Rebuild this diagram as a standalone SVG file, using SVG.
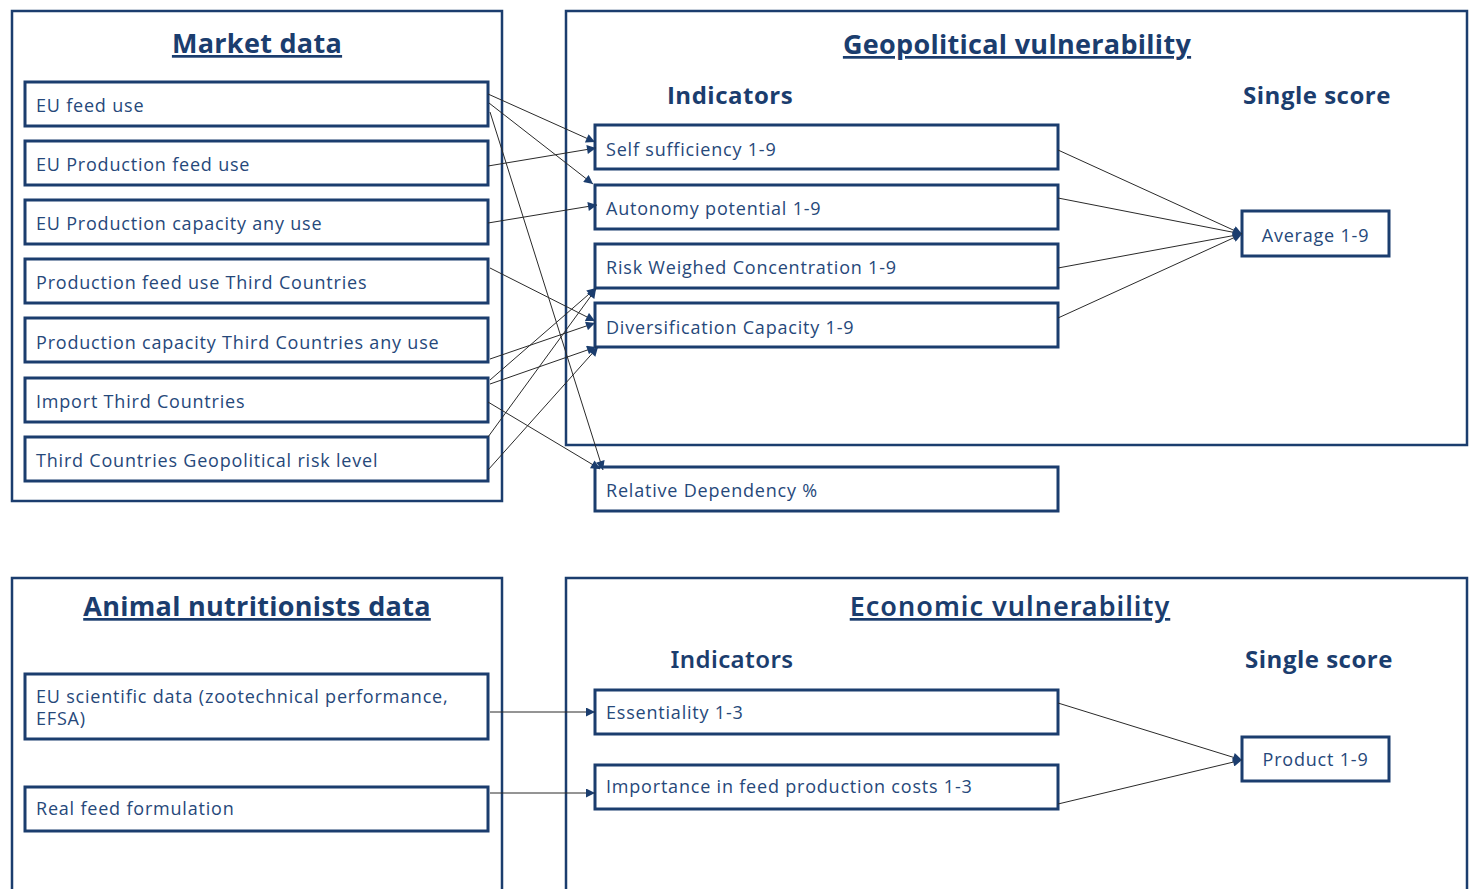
<svg xmlns="http://www.w3.org/2000/svg" width="1474" height="889" viewBox="0 0 1474 889">
<defs>
<marker id="ah" viewBox="0 0 10 10" refX="10" refY="5" markerWidth="10" markerHeight="9" markerUnits="userSpaceOnUse" orient="auto">
<path d="M0,0 L10,5 L0,10 z" fill="#1B3D6E"/>
</marker>
<style>
.outer{fill:none;stroke:#1B3D6E;stroke-width:2.5}
.box{fill:#fff;stroke:#1B3D6E;stroke-width:3}
.t{font-family:"Open Sans","Liberation Sans",sans-serif;font-size:18px;letter-spacing:0.8px;fill:#26487A}
.tc{font-family:"Open Sans","Liberation Sans",sans-serif;font-size:18px;letter-spacing:0.8px;fill:#26487A;text-anchor:middle}
.title{font-family:"Open Sans","Liberation Sans",sans-serif;font-size:27px;font-weight:700;letter-spacing:0.3px;fill:#1B3D6E;text-anchor:middle;text-decoration:underline}
.sub{font-family:"Open Sans","Liberation Sans",sans-serif;font-size:24px;font-weight:700;letter-spacing:0.5px;fill:#1B3D6E;text-anchor:middle}
.sub2{font-family:"Noto Sans","Liberation Sans",sans-serif;font-size:24px;font-weight:600;letter-spacing:0.4px;fill:#1B3D6E;text-anchor:middle}
.title2{font-family:"Noto Sans","Liberation Sans",sans-serif;font-size:27px;font-weight:600;letter-spacing:1px;fill:#1B3D6E;text-anchor:middle;text-decoration:underline}
.c{stroke:#2a2a2a;stroke-width:1;fill:none;marker-end:url(#ah)}
</style>
</defs>
<rect width="1474" height="889" fill="#fff"/>

<g id="market-data">
<rect class="outer" x="12" y="11" width="490" height="490"/>
<text class="title" x="257" y="53">Market data</text>
</g>
<g id="eu-feed-use"><rect class="box" x="25" y="82" width="463" height="44"/><text class="t" x="36" y="112">EU feed use</text></g>
<g id="eu-production-feed-use"><rect class="box" x="25" y="141" width="463" height="44"/><text class="t" x="36" y="171">EU Production feed use</text></g>
<g id="eu-production-capacity"><rect class="box" x="25" y="200" width="463" height="44"/><text class="t" x="36" y="230">EU Production capacity any use</text></g>
<g id="production-feed-use-tc"><rect class="box" x="25" y="259" width="463" height="44"/><text class="t" x="36" y="289">Production feed use Third Countries</text></g>
<g id="production-capacity-tc"><rect class="box" x="25" y="318" width="463" height="44"/><text class="t" x="36" y="349">Production capacity Third Countries any use</text></g>
<g id="import-tc"><rect class="box" x="25" y="378" width="463" height="44"/><text class="t" x="36" y="408">Import Third Countries</text></g>
<g id="tc-geopolitical-risk"><rect class="box" x="25" y="437" width="463" height="44"/><text class="t" x="36" y="467">Third Countries Geopolitical risk level</text></g>

<g id="geopolitical-vulnerability">
<rect class="outer" x="566" y="11" width="901" height="434"/>
<text class="title" x="1017" y="54">Geopolitical vulnerability</text>
<text class="sub" x="730" y="104">Indicators</text>
<text class="sub" x="1317" y="104">Single score</text>
</g>
<g id="self-sufficiency"><rect class="box" x="595" y="125" width="463" height="44"/><text class="t" x="606" y="156">Self sufficiency 1-9</text></g>
<g id="autonomy-potential"><rect class="box" x="595" y="185" width="463" height="44"/><text class="t" x="606" y="215">Autonomy potential 1-9</text></g>
<g id="risk-weighed-concentration"><rect class="box" x="595" y="244" width="463" height="44"/><text class="t" x="606" y="274">Risk Weighed Concentration 1-9</text></g>
<g id="diversification-capacity"><rect class="box" x="595" y="303" width="463" height="44"/><text class="t" x="606" y="334">Diversification Capacity 1-9</text></g>
<g id="relative-dependency"><rect class="box" x="595" y="467" width="463" height="44"/><text class="t" x="606" y="497">Relative Dependency %</text></g>
<g id="average"><rect class="box" x="1242" y="211" width="147" height="45"/><text class="tc" x="1315.5" y="242">Average 1-9</text></g>

<g id="animal-nutritionists-data">
<rect class="outer" x="12" y="578" width="490" height="320"/>
<text class="title" x="257" y="616">Animal nutritionists data</text>
</g>
<g id="eu-scientific-data"><rect class="box" x="25" y="674" width="463" height="65"/><text class="t" x="36" y="703">EU scientific data (zootechnical performance,</text><text class="t" x="36" y="725">EFSA)</text></g>
<g id="real-feed-formulation"><rect class="box" x="25" y="787" width="463" height="44"/><text class="t" x="36" y="815">Real feed formulation</text></g>

<g id="economic-vulnerability">
<rect class="outer" x="566" y="578" width="901" height="320"/>
<text class="title2" x="1010" y="616">Economic vulnerability</text>
<text class="sub2" x="732" y="668">Indicators</text>
<text class="sub" x="1319" y="668">Single score</text>
</g>
<g id="essentiality"><rect class="box" x="595" y="690" width="463" height="44"/><text class="t" x="606" y="719">Essentiality 1-3</text></g>
<g id="importance-feed-costs"><rect class="box" x="595" y="765" width="463" height="44"/><text class="t" x="606" y="793">Importance in feed production costs 1-3</text></g>
<g id="product"><rect class="box" x="1242" y="737" width="147" height="44"/><text class="tc" x="1315.5" y="766">Product 1-9</text></g>

<g id="connectors">
<line class="c" x1="488" y1="94" x2="595" y2="142"/>
<line class="c" x1="489" y1="103" x2="593" y2="184"/>
<line class="c" x1="490" y1="112" x2="603" y2="470"/>
<line class="c" x1="488" y1="166" x2="596" y2="148"/>
<line class="c" x1="488" y1="223" x2="597" y2="205"/>
<line class="c" x1="490" y1="268" x2="595" y2="321"/>
<line class="c" x1="490" y1="359" x2="595" y2="323"/>
<line class="c" x1="490" y1="380" x2="596" y2="288"/>
<line class="c" x1="490" y1="384" x2="596" y2="347"/>
<line class="c" x1="488" y1="402" x2="600" y2="469"/>
<line class="c" x1="488" y1="437" x2="596" y2="289"/>
<line class="c" x1="488" y1="470" x2="598" y2="347"/>
<line class="c" x1="1058" y1="150" x2="1242" y2="234"/>
<line class="c" x1="1058" y1="198" x2="1242" y2="234"/>
<line class="c" x1="1058" y1="268" x2="1242" y2="234"/>
<line class="c" x1="1058" y1="318" x2="1242" y2="234"/>
<line class="c" x1="490" y1="712" x2="595" y2="712"/>
<line class="c" x1="490" y1="793" x2="595" y2="793"/>
<line class="c" x1="1058" y1="703" x2="1242" y2="760"/>
<line class="c" x1="1058" y1="804" x2="1242" y2="760"/>
</g>
</svg>
